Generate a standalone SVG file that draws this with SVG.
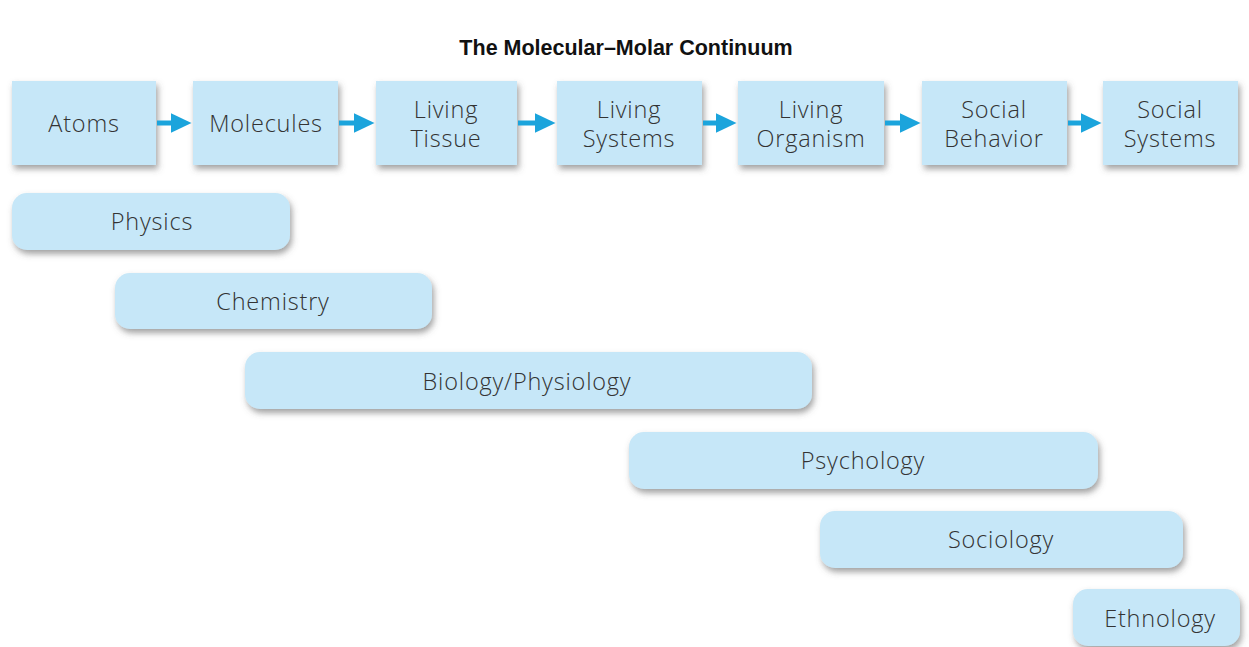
<svg xmlns="http://www.w3.org/2000/svg" width="1249" height="647" viewBox="0 0 1249 647">
<style>
.box{fill:#c6e7f8;filter:url(#sh)}
.lbl{font-family:"Open Sans","Liberation Sans",Arial,sans-serif;font-weight:300;font-size:23.5px;letter-spacing:0.8px;fill:#333;text-anchor:middle}
.title{font-family:"Liberation Sans",Arial,sans-serif;font-size:21.5px;font-weight:bold;fill:#111;text-anchor:middle}
.conn line{stroke:#1ba4dc;stroke-width:5}
</style>
<defs>
<filter id="sh" x="-10%" y="-20%" width="120%" height="160%">
<feDropShadow dx="2" dy="4" stdDeviation="3" flood-color="#555" flood-opacity="0.55"/>
</filter>
<marker id="ah" markerWidth="4.2" markerHeight="4" refX="0.5" refY="2" orient="auto" markerUnits="strokeWidth">
<path d="M0,0 L4.2,2 L0,4 Z" fill="#1ba4dc"/>
</marker>
</defs>
<rect width="1249" height="647" fill="#fff"/>
<text class="title" x="626" y="55">The Molecular–Molar Continuum</text>

<g id="atoms"><rect class="box" x="12" y="81" width="144" height="84"/><text class="lbl" x="84" y="132">Atoms</text></g>
<g id="molecules"><rect class="box" x="193" y="81" width="145" height="84"/><text class="lbl" x="266" y="132">Molecules</text></g>
<g id="living-tissue"><rect class="box" x="376" y="81" width="141" height="84"/><text class="lbl" x="446" y="118">Living</text><text class="lbl" x="446" y="147">Tissue</text></g>
<g id="living-systems"><rect class="box" x="557" y="81" width="145" height="84"/><text class="lbl" x="629" y="118">Living</text><text class="lbl" x="629" y="147">Systems</text></g>
<g id="living-organism"><rect class="box" x="738" y="81" width="146" height="84"/><text class="lbl" x="811" y="118">Living</text><text class="lbl" x="811" y="147">Organism</text></g>
<g id="social-behavior"><rect class="box" x="922" y="81" width="145" height="84"/><text class="lbl" x="994" y="118">Social</text><text class="lbl" x="994" y="147">Behavior</text></g>
<g id="social-systems"><rect class="box" x="1103" y="81" width="135" height="84"/><text class="lbl" x="1170" y="118">Social</text><text class="lbl" x="1170" y="147">Systems</text></g>

<g id="connectors" class="conn">
<line x1="157" y1="123" x2="173" y2="123" marker-end="url(#ah)"/>
<line x1="339" y1="123" x2="356" y2="123" marker-end="url(#ah)"/>
<line x1="518" y1="123" x2="537" y2="123" marker-end="url(#ah)"/>
<line x1="703" y1="123" x2="718" y2="123" marker-end="url(#ah)"/>
<line x1="885" y1="123" x2="902" y2="123" marker-end="url(#ah)"/>
<line x1="1068" y1="123" x2="1083" y2="123" marker-end="url(#ah)"/>
</g>

<g id="physics"><rect class="box" x="12" y="193" width="278" height="57" rx="15"/><text class="lbl" x="152" y="230">Physics</text></g>
<g id="chemistry"><rect class="box" x="115" y="273" width="317" height="56" rx="15"/><text class="lbl" x="273" y="310">Chemistry</text></g>
<g id="biology"><rect class="box" x="245" y="352" width="567" height="57" rx="15"/><text class="lbl" x="527" y="390">Biology/Physiology</text></g>
<g id="psychology"><rect class="box" x="629" y="432" width="469" height="57" rx="15"/><text class="lbl" x="863" y="469">Psychology</text></g>
<g id="sociology"><rect class="box" x="820" y="511" width="363" height="57" rx="15"/><text class="lbl" x="1001" y="548">Sociology</text></g>
<g id="ethnology"><rect class="box" x="1073" y="589" width="167" height="57" rx="15"/><text class="lbl" x="1160" y="627">Ethnology</text></g>
</svg>
